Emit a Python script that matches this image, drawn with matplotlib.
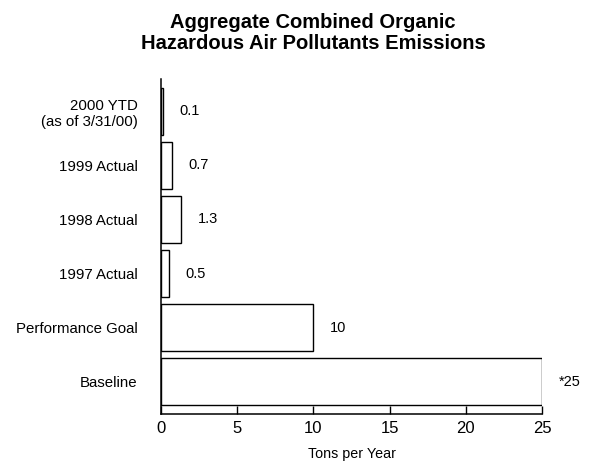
import matplotlib
matplotlib.use("Agg")
import matplotlib.pyplot as plt

plt.rcParams['font.family'] = ['Liberation Sans', 'DejaVu Sans']

categories = ["Baseline", "Performance Goal", "1997 Actual", "1998 Actual",
              "1999 Actual", "2000 YTD\n(as of 3/31/00)"]
values = [25, 10, 0.5, 1.3, 0.7, 0.1]
value_labels = ["*25", "10", "0.5", "1.3", "0.7", "0.1"]
xticks = [0, 5, 10, 15, 20, 25]

fig = plt.figure(figsize=(5.9, 4.63), dpi=100)
ax = fig.add_axes([161/590, 1 - 414/463, (542-161)/590, (414-79)/463])

ypos = list(range(len(categories)))
ax.barh(ypos, values, height=0.87, color='white', edgecolor='black', linewidth=1.0)

for y, v, lab in zip(ypos, values, value_labels):
    ax.annotate(lab, xy=(v, y), xytext=(12, 0), textcoords='offset points',
                ha='left', va='center', fontsize=10.5)

ax.set_xlim(0, 25)
ax.set_ylim(-0.6, 5.6)
ax.set_xticks(xticks)
ax.set_xticklabels([str(t) for t in xticks], fontsize=12)
ax.set_yticks(ypos)
ax.set_yticklabels(categories, fontsize=10.8, multialignment='right')
ax.tick_params(axis='y', length=0, pad=17)
ax.tick_params(axis='x', direction='in', length=6, width=1.0, pad=5)
for s in ['top', 'right']:
    ax.spines[s].set_visible(False)
for s in ['left', 'bottom']:
    ax.spines[s].set_linewidth(1.1)

ax.set_xlabel("Tons per Year", fontsize=10.3, labelpad=8)

fig.text(313/590, 1 - 33/463, "Aggregate Combined Organic\nHazardous Air Pollutants Emissions",
         ha='center', va='center', fontsize=14.5, fontweight='bold', linespacing=1.15)

fig.savefig("out.png", dpi=100)
